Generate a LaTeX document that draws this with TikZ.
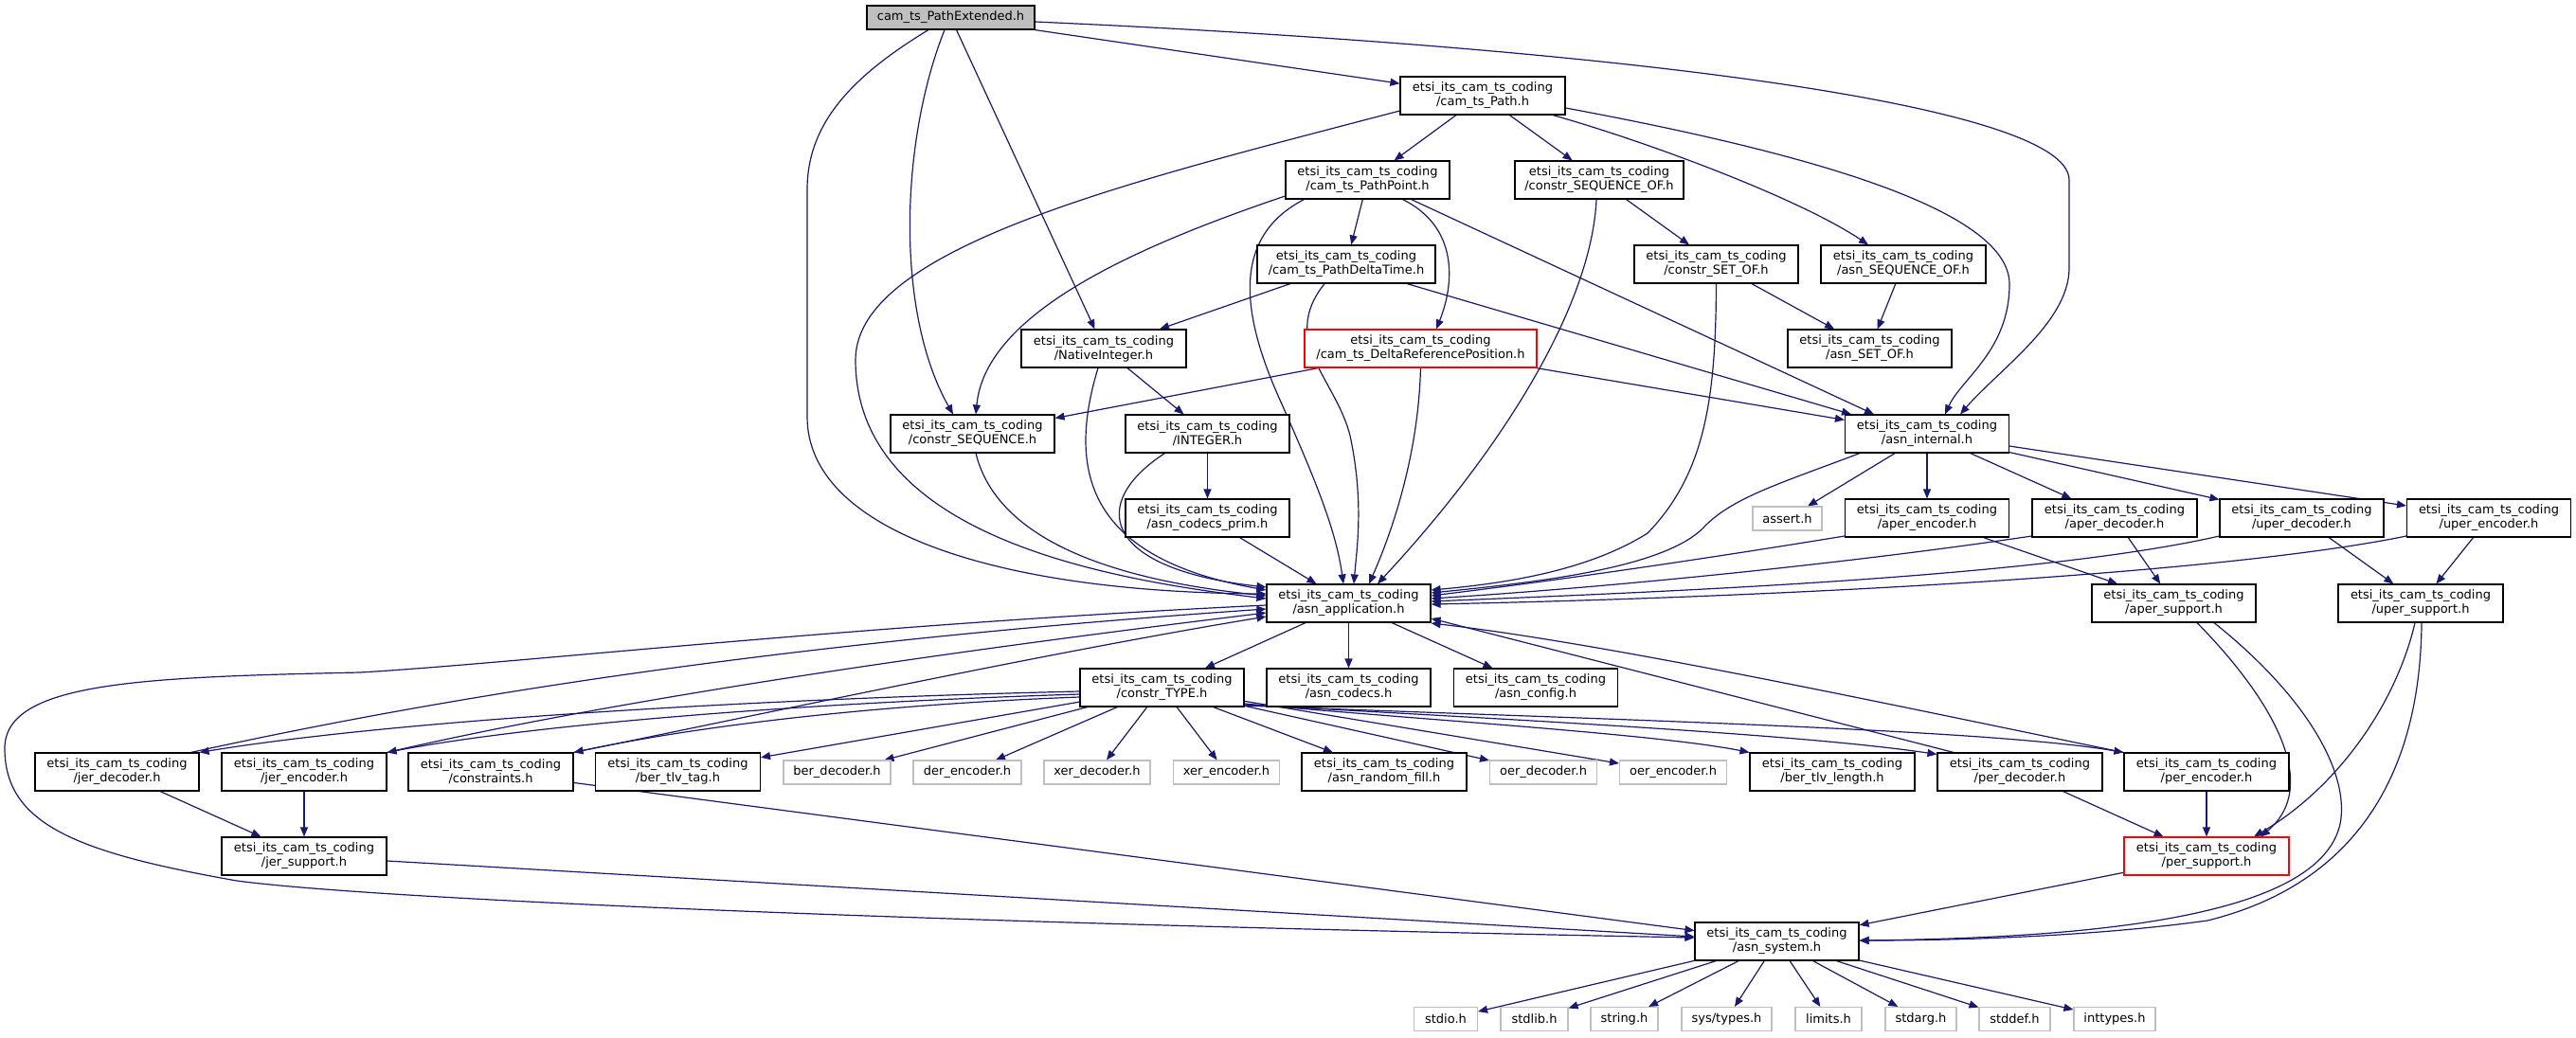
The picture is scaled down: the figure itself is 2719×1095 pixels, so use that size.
\documentclass[tikz,border=0pt]{standalone}
\usepackage{fontspec}
\setmainfont{DejaVu Sans}
\usetikzlibrary{arrows.meta}
\definecolor{edgec}{HTML}{191970}
\definecolor{greyb}{HTML}{BFBFBF}
\newcommand\etsc{etsi\_its\_cam\_ts\_coding}
\pgfdeclarelayer{bg}
\pgfsetlayers{bg,main}
\tikzset{
  nd/.style={draw=black, line width=1.1pt, fill=white, inner sep=0pt, align=center, font=\fontsize{13}{15}\selectfont, minimum height=40pt},
  gnd/.style={nd, draw=greyb, minimum height=25pt},
  rnd/.style={nd, draw=red},
  ed/.style={draw=edgec, line width=1.2pt, -{Triangle[length=10pt,width=8pt]}},
}
\begin{document}
\begin{tikzpicture}[x=1pt,y=-1pt]
\useasboundingbox (0,0) rectangle (2719,1095);
% ---------- nodes ----------
\node[nd, fill=greyb, minimum width=177pt, minimum height=25pt] (PE) at (1003.5,18.5) {cam\_ts\_PathExtended.h};
\node[nd, minimum width=174pt] (Path) at (1565,101) {\etsc\\/cam\_ts\_Path.h};
\node[nd, minimum width=173pt] (PP) at (1443.5,190) {\etsc\\/cam\_ts\_PathPoint.h};
\node[nd, minimum width=178pt] (CSO) at (1688,190) {\etsc\\/constr\_SEQUENCE\_OF.h};
\node[nd, minimum width=188pt] (PDT) at (1421,279) {\etsc\\/cam\_ts\_PathDeltaTime.h};
\node[nd, minimum width=173pt] (CSETOF) at (1811.5,279) {\etsc\\/constr\_SET\_OF.h};
\node[nd, minimum width=174pt] (ASO) at (2009,279) {\etsc\\/asn\_SEQUENCE\_OF.h};
\node[nd, minimum width=174pt] (NI) at (1165,368) {\etsc\\/NativeInteger.h};
\node[rnd, minimum width=245pt] (DRP) at (1499.5,368) {\etsc\\/cam\_ts\_DeltaReferencePosition.h};
\node[nd, minimum width=173pt] (ASETOF) at (1973.5,368) {\etsc\\/asn\_SET\_OF.h};
\node[nd, minimum width=173pt] (CS) at (1026.5,458) {\etsc\\/constr\_SEQUENCE.h};
\node[nd, minimum width=173pt] (INT) at (1274.5,458) {\etsc\\/INTEGER.h};
\node[nd, minimum width=173pt] (AI) at (2034,458) {\etsc\\/asn\_internal.h};
\node[nd, minimum width=173pt] (ACP) at (1274.5,547) {\etsc\\/asn\_codecs\_prim.h};
\node[gnd, minimum width=73pt] (assert) at (1886.5,547.5) {assert.h};
\node[nd, minimum width=173pt] (AENC) at (2034,547) {\etsc\\/aper\_encoder.h};
\node[nd, minimum width=174pt] (ADEC) at (2232,547) {\etsc\\/aper\_decoder.h};
\node[nd, minimum width=173pt] (UDEC) at (2429.5,547) {\etsc\\/uper\_decoder.h};
\node[nd, minimum width=173pt] (UENC) at (2627,547) {\etsc\\/uper\_encoder.h};
\node[nd, minimum width=173pt] (AA) at (1423.5,637) {\etsc\\/asn\_application.h};
\node[nd, minimum width=173pt] (ASUP) at (2294.5,637) {\etsc\\/aper\_support.h};
\node[nd, minimum width=174pt] (USUP) at (2555,637) {\etsc\\/uper\_support.h};
\node[nd, minimum width=173pt] (CT) at (1226.5,726) {\etsc\\/constr\_TYPE.h};
\node[nd, minimum width=173pt] (ACOD) at (1423.5,726) {\etsc\\/asn\_codecs.h};
\node[nd, minimum width=173pt] (ACFG) at (1621,726) {\etsc\\/asn\_config.h};
\node[nd, minimum width=173pt] (JDEC) at (123.5,815) {\etsc\\/jer\_decoder.h};
\node[nd, minimum width=174pt] (JENC) at (321,815) {\etsc\\/jer\_encoder.h};
\node[nd, minimum width=174pt] (CONS) at (518,815) {\etsc\\/constraints.h};
\node[nd, minimum width=174pt] (BTAG) at (715.5,815) {\etsc\\/ber\_tlv\_tag.h};
\node[gnd, minimum width=113pt] (berdec) at (883.5,815.5) {ber\_decoder.h};
\node[gnd, minimum width=114pt] (derenc) at (1021,815.5) {der\_encoder.h};
\node[gnd, minimum width=112pt] (xerdec) at (1158,815.5) {xer\_decoder.h};
\node[gnd, minimum width=112pt] (xerenc) at (1294.5,815.5) {xer\_encoder.h};
\node[nd, minimum width=174pt] (ARF) at (1461,815) {\etsc\\/asn\_random\_fill.h};
\node[gnd, minimum width=113pt] (oerdec) at (1629,815.5) {oer\_decoder.h};
\node[gnd, minimum width=113pt] (oerenc) at (1766,815.5) {oer\_encoder.h};
\node[nd, minimum width=174pt] (BTLEN) at (1934,815) {\etsc\\/ber\_tlv\_length.h};
\node[nd, minimum width=174pt] (PDEC) at (2132,815) {\etsc\\/per\_decoder.h};
\node[nd, minimum width=174pt] (PENC) at (2329,815) {\etsc\\/per\_encoder.h};
\node[nd, minimum width=174pt] (JSUP) at (321,904) {\etsc\\/jer\_support.h};
\node[rnd, minimum width=174pt] (PSUP) at (2329,904) {\etsc\\/per\_support.h};
\node[nd, minimum width=173pt] (ASYS) at (1875.5,994) {\etsc\\/asn\_system.h};
\node[gnd, minimum width=67pt] (stdio) at (1526,1076) {stdio.h};
\node[gnd, minimum width=71pt] (stdlib) at (1619.5,1076) {stdlib.h};
\node[gnd, minimum width=71pt] (string) at (1714.5,1076) {string.h};
\node[gnd, minimum width=95pt] (systypes) at (1822.5,1076) {sys/types.h};
\node[gnd, minimum width=70pt] (limits) at (1930,1076) {limits.h};
\node[gnd, minimum width=75pt] (stdarg) at (2027.5,1076) {stdarg.h};
\node[gnd, minimum width=75pt] (stddef) at (2126.5,1076) {stddef.h};
\node[gnd, minimum width=86pt] (inttypes) at (2232,1076) {inttypes.h};
% ---------- edges ----------
\begin{pgfonlayer}{bg}
\fill[white] (0,0) rectangle (2719,1095);
% from PE
\draw[ed] (PE) -- (Path);
\draw[ed] ([yshift=-4.5pt]PE.east) .. controls (1700,50) and (2184,110) .. (2184,190) -- (2184,283) .. controls (2184,340) and (2110,390) .. ([xshift=35pt]AI.north);
\draw[ed] (PE) -- (NI);
\draw[ed] ([xshift=-6.5pt]PE.south) .. controls (950,150) and (945,330) .. ([xshift=-20.5pt]CS.north);
\draw[ed] ([xshift=-23.5pt]PE.south) .. controls (900,80) and (852,130) .. (852,200) -- (852,440) .. controls (852,560) and (1050,625) .. ([yshift=10pt]AA.west);
% from Path
\draw[ed] (Path) -- (PP);
\draw[ed] (Path) -- (CSO);
\draw[ed] ([xshift=74pt]Path.south) .. controls (1740,150) and (1900,210) .. ([xshift=-37pt]ASO.north);
\draw[ed] ([yshift=-13pt]Path.east) .. controls (1900,160) and (2121,220) .. (2121,300) .. controls (2121,370) and (2070,400) .. ([xshift=19pt]AI.north);
\draw[ed] ([yshift=-16pt]Path.west) .. controls (1200,190) and (903,260) .. (903,380) .. controls (903,560) and (1150,610) .. ([yshift=5pt]AA.west);
% from PP
\draw[ed] (PP) -- (PDT);
\draw[ed] ([xshift=37pt]PP.south) .. controls (1540,240) and (1535,300) .. ([xshift=16.5pt]DRP.north);
\draw[ed] ([xshift=46pt]PP.south) -- ([xshift=-56pt]AI.north);
\draw[ed] ([yshift=-17pt]PP.west) .. controls (1200,260) and (1040,330) .. ([xshift=3.5pt]CS.north);
\draw[ed] ([xshift=-67pt]PP.south) .. controls (1300,250) and (1310,330) .. (1350,420) .. controls (1390,510) and (1410,560) .. ([xshift=-5.5pt]AA.north);
% from PDT
\draw[ed] (PDT) -- (NI);
\draw[ed] ([xshift=64pt]PDT.south) -- ([xshift=-80pt]AI.north);
\draw[ed] ([xshift=-23pt]PDT.south) .. controls (1350,360) and (1410,400) .. (1425,460) .. controls (1440,530) and (1432,580) .. ([xshift=5.5pt]AA.north);
% from DRP
\draw[ed] (DRP) -- (CS);
\draw[ed] (DRP) -- (AI);
\draw[ed] (DRP.south) .. controls (1497,480) and (1470,560) .. ([xshift=21.5pt]AA.north);
% from NI, INT, ACP, CS
\draw[ed] (NI) -- (INT);
\draw[ed] ([xshift=-6pt]NI.south) .. controls (1125,500) and (1150,590) .. ([yshift=14pt]AA.west);
\draw[ed] (INT) -- (ACP);
\draw[ed] ([xshift=-45pt]INT.south) .. controls (1150,530) and (1160,600) .. ([yshift=17pt]AA.west);
\draw[ed] (ACP) -- (AA);
\draw[ed] ([xshift=3.5pt]CS.south) .. controls (1050,560) and (1150,610) .. ([yshift=8pt]AA.west);
% from CSO, CSETOF, ASO
\draw[ed] (CSO) -- (CSETOF);
\draw[ed] ([xshift=-3pt]CSO.south) .. controls (1680,320) and (1590,470) .. ([xshift=30.5pt]AA.north);
\draw[ed] (CSETOF) -- (ASETOF);
\draw[ed] (CSETOF.south) .. controls (1811,420) and (1800,500) .. (1739,563) .. controls (1680,600) and (1600,615) .. ([yshift=14pt]AA.east);
\draw[ed] (ASO) -- (ASETOF);
% from AI
\draw[ed] ([xshift=-71pt]AI.south) .. controls (1880,510) and (1830,525) .. (1800,555) .. controls (1760,600) and (1620,615) .. ([yshift=11pt]AA.east);
\draw[ed] (AI) -- (assert);
\draw[ed] (AI) -- (AENC);
\draw[ed] (AI) -- (ADEC);
\draw[ed] (AI) -- (UDEC);
\draw[ed] (AI) -- (UENC);
% from aper / uper coders
\draw[ed] ([yshift=-19pt]AENC.west) .. controls (1800,590) and (1650,612) .. ([yshift=8pt]AA.east);
\draw[ed] (AENC) -- (ASUP);
\draw[ed] (ADEC) -- (ASUP);
\draw[ed] ([yshift=-19pt]ADEC.west) .. controls (1950,595) and (1700,620) .. ([yshift=5pt]AA.east);
\draw[ed] (UDEC) -- (USUP);
\draw[ed] ([yshift=-19pt]UDEC.west) .. controls (2150,610) and (1750,625) .. ([yshift=2pt]AA.east);
\draw[ed] (UENC) -- (USUP);
\draw[ed] ([yshift=-19pt]UENC.west) .. controls (2350,605) and (1900,630) .. ([yshift=-1pt]AA.east);
% from supports
\draw[ed] ([xshift=24.5pt]ASUP.south) .. controls (2400,740) and (2450,830) .. ([xshift=57pt]PSUP.north);
\draw[ed] ([xshift=42.5pt]ASUP.south) .. controls (2440,740) and (2480,820) .. (2470,870) .. controls (2450,960) and (2250,990) .. ([yshift=1pt]ASYS.east);
\draw[ed] ([xshift=-6pt]USUP.south) .. controls (2530,740) and (2470,830) .. ([xshift=50pt]PSUP.north);
\draw[ed] ([xshift=1pt]USUP.south) .. controls (2555,800) and (2500,930) .. (2330,972) .. controls (2200,990) and (2050,993) .. ([yshift=1pt]ASYS.east);
% from AA
\draw[ed] (AA) -- (CT);
\draw[ed] (AA) -- (ACOD);
\draw[ed] (AA) -- (ACFG);
\draw[ed] ([yshift=-2pt]AA.west) .. controls (900,660) and (550,700) .. (380,710) .. controls (150,715) and (5,720) .. (5,790) .. controls (5,870) and (80,900) .. (250,930) .. controls (400,950) and (1000,975) .. ([yshift=4pt]ASYS.west);
% from CT
\draw[ed] ([yshift=-4pt]CT.west) .. controls (800,738) and (420,760) .. (JDEC.north east);
\draw[ed] ([yshift=-7pt]CT.west) .. controls (850,742) and (560,765) .. (JENC.north east);
\draw[ed] ([yshift=-10pt]CT.west) .. controls (900,745) and (720,770) .. (CONS.north east);
\draw[ed] (CT) -- (BTAG);
\draw[ed] (CT) -- (berdec);
\draw[ed] (CT) -- (derenc);
\draw[ed] (CT) -- (xerdec);
\draw[ed] (CT) -- (xerenc);
\draw[ed] (CT) -- (ARF);
\draw[ed] (CT) -- (oerdec);
\draw[ed] (CT) -- (oerenc);
\draw[ed] ([yshift=-17pt]CT.east) .. controls (1500,760) and (1750,775) .. (BTLEN.north west);
\draw[ed] ([yshift=-18pt]CT.east) .. controls (1600,760) and (1900,775) .. ([yshift=-2pt]PDEC.north west);
\draw[ed] ([yshift=-19pt]CT.east) .. controls (1700,760) and (2100,770) .. (PENC.north west);
% from coders to AA
\draw[ed] ([xshift=-9pt]JDEC.north east) .. controls (450,740) and (800,680) .. ([yshift=-6pt]AA.west);
\draw[ed] (JENC.north east) .. controls (600,750) and (900,700) .. ([yshift=-10pt]AA.west);
\draw[ed] (CONS.north east) .. controls (800,755) and (1100,690) .. ([yshift=-14pt]AA.west);
\draw[ed] ([xshift=-70pt]PDEC.north) -- ([yshift=-16pt]AA.east);
\draw[ed] (PENC.north west) .. controls (2000,745) and (1700,680) .. ([yshift=-21pt]AA.east);
% supports
\draw[ed] (JDEC) -- (JSUP);
\draw[ed] (JENC) -- (JSUP);
\draw[ed] (PDEC) -- (PSUP);
\draw[ed] (PENC) -- (PSUP);
\draw[ed] (JSUP) -- (ASYS);
\draw[ed] (CONS) -- (ASYS);
\draw[ed] (PSUP) -- (ASYS);
% from ASYS
\draw[ed] (ASYS) -- (stdio);
\draw[ed] (ASYS) -- (stdlib);
\draw[ed] (ASYS) -- (string);
\draw[ed] (ASYS) -- (systypes);
\draw[ed] (ASYS) -- (limits);
\draw[ed] (ASYS) -- (stdarg);
\draw[ed] (ASYS) -- (stddef);
\draw[ed] (ASYS) -- (inttypes);
\end{pgfonlayer}
\end{tikzpicture}
\end{document}
